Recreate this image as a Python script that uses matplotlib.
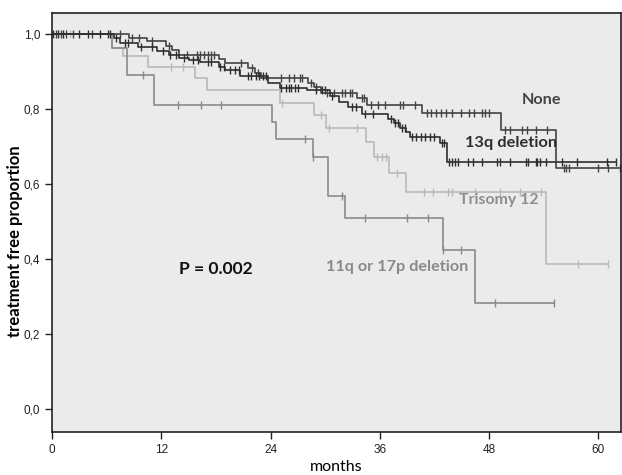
import numpy as np
import matplotlib
matplotlib.use("Agg")
import matplotlib.pyplot as plt
from matplotlib.ticker import FuncFormatter

# Kaplan-Meier steps: (months, treatment free proportion)
none_t = [0, 8.5, 10.4, 12.5, 13.2, 14.0, 18.3, 19.0, 21.5, 22.3, 23.0, 28.1, 28.8, 29.5, 33.5, 34.6, 40.6, 49.3, 55.4]
none_s = [1.0, 0.99, 0.981, 0.968, 0.958, 0.944, 0.933, 0.923, 0.91, 0.895, 0.883, 0.869, 0.86, 0.843, 0.829, 0.81, 0.789, 0.744, 0.643]
none_cens = [0.4, 1.0, 1.5, 2.3, 4.4, 7.5, 8.8, 9.5, 11.0, 12.8, 14.8, 15.9, 16.2, 16.7, 17.1, 17.5, 17.8, 20.8,
             22.0, 22.6, 25.2, 26.0, 26.6, 27.2, 27.5, 28.4, 29.0, 30.2, 31.0, 31.8, 32.2, 32.7, 33.0, 34.0, 34.3,
             35.0, 35.8, 36.6, 38.2, 38.5, 39.9, 41.2, 41.6, 42.2, 42.7, 43.3, 43.9, 44.9, 45.8, 46.3, 47.2, 47.6,
             48.0, 49.7, 50.3, 51.6, 52.2, 53.1, 54.4, 56.2, 56.5, 56.8, 60.0, 61.1, 62.4]

del13_t = [0, 6.8, 7.5, 9.4, 11.5, 12.8, 14.0, 15.0, 16.2, 18.3, 19.0, 20.7, 23.7, 25.0, 28.0, 30.5, 31.5, 32.5,
           34.0, 36.9, 37.6, 38.2, 38.9, 39.3, 42.6, 43.4]
del13_s = [1.0, 0.99, 0.975, 0.965, 0.955, 0.945, 0.935, 0.93, 0.925, 0.912, 0.904, 0.888, 0.869, 0.856, 0.85,
           0.835, 0.818, 0.805, 0.787, 0.773, 0.762, 0.75, 0.738, 0.725, 0.709, 0.659]
del13_cens = [0.1, 0.7, 1.2, 3.0, 4.0, 5.3, 6.1, 6.4, 7.0, 8.0, 8.3, 9.8, 11.0, 12.2, 13.0, 13.6, 14.5, 15.5, 16.0,
              17.1, 17.5, 18.5, 18.9, 19.5, 20.1, 20.5, 21.5, 21.9, 22.4, 22.7, 23.2, 23.5, 25.2, 25.7, 26.0,
              26.3, 26.7, 27.0, 29.0, 29.6, 30.0, 30.8, 33.0, 33.4, 34.4, 35.3, 37.2, 37.7, 38.0, 38.4, 38.8,
              39.5, 40.0, 40.5, 41.0, 41.5, 42.0, 42.8, 43.0, 43.6, 43.9, 44.3, 44.6, 45.7, 46.2, 47.2, 48.9,
              49.2, 50.3, 52.0, 52.3, 53.1, 53.3, 53.6, 54.2, 56.0, 57.6, 61.0, 61.9]

tri12_t = [0, 6.6, 7.8, 10.5, 15.7, 17.0, 25.0, 28.8, 30.1, 34.5, 35.4, 37.0, 38.9, 54.2]
tri12_s = [1.0, 0.963, 0.941, 0.912, 0.883, 0.851, 0.816, 0.784, 0.749, 0.712, 0.672, 0.629, 0.579, 0.387]
tri12_cens = [2.0, 13.1, 14.4, 25.3, 29.5, 30.4, 33.5, 35.7, 36.2, 36.7, 37.9, 40.9, 41.8, 43.5, 43.9, 46.5,
              49.2, 51.4, 53.7, 57.8, 61.1]

del11_t = [0, 6.6, 8.2, 11.2, 24.2, 24.6, 28.7, 30.3, 32.2, 42.9, 46.5]
del11_s = [1.0, 0.963, 0.89, 0.81, 0.765, 0.72, 0.672, 0.567, 0.51, 0.424, 0.283]
del11_cens = [10.0, 13.8, 16.4, 18.6, 27.8, 28.7, 31.9, 34.4, 39.0, 41.3, 42.9, 44.9, 48.7, 55.1]

x_ticks = [0, 12, 24, 36, 48, 60]
y_ticks = [0.0, 0.2, 0.4, 0.6, 0.8, 1.0]

fig = plt.figure(figsize=(6.22, 4.75), dpi=100)
ax = fig.add_axes([0.0836, 0.0905, 0.915, 0.882])
ax.set_facecolor("#ebebeb")


def km(ax, t, s, cens, col, lw=1.2):
    t = np.array(t)
    s = np.array(s)
    c = np.array(cens)
    end = max(t[-1], c.max())
    ax.step(np.append(t, end), np.append(s, s[-1]), where="post", color=col, lw=lw)
    # censored marks sit on the curve value at that time
    cs = s[np.searchsorted(t, c, side="right") - 1]
    ax.plot(c, cs, "|", color=col, ms=6, mew=1.0)


km(ax, tri12_t, tri12_s, tri12_cens, "#b9b9b9")
km(ax, del11_t, del11_s, del11_cens, "#8a8a8a")
km(ax, none_t, none_s, none_cens, "#444444")
km(ax, del13_t, del13_s, del13_cens, "#2e2e2e")

ax.set_xlim(0, 62.5)
ax.set_ylim(-0.061, 1.056)
ax.set_xticks(x_ticks)
ax.set_yticks(y_ticks)
ax.yaxis.set_major_formatter(FuncFormatter(lambda v, p: ("%.1f" % v).replace(".", ",")))
ax.tick_params(direction="out", length=5, width=1, labelsize=8.5, colors="#222222")
for lab in ax.get_xticklabels() + ax.get_yticklabels():
    lab.set_family("Liberation Sans")
for sp in ax.spines.values():
    sp.set_color("#222222")
    sp.set_linewidth(1.2)

ax.set_xlabel("months", family="Lato", fontsize=11.5, labelpad=3)
ax.set_ylabel("treatment free proportion", family="Lato", fontsize=12, fontweight="bold")
ax.yaxis.set_label_coords(-0.051, 0.455)

ax.text(53.8, 0.824, "None", family="Lato", fontsize=11.7, fontweight="bold", color="#444444", ha="center", va="center")
ax.text(50.4, 0.709, "13q deletion", family="Lato", fontsize=11.8, fontweight="bold", color="#2e2e2e", ha="center", va="center")
ax.text(49.1, 0.557, "Trisomy 12", family="Lato", fontsize=11.4, fontweight="bold", color="#8e8e8e", ha="center", va="center")
ax.text(37.9, 0.379, "11q or 17p deletion", family="Lato", fontsize=11.7, fontweight="bold", color="#8a8a8a", ha="center", va="center")
ax.text(18.0, 0.373, "P = 0.002", family="Lato", fontsize=12.5, fontweight="bold", color="#111111", ha="center", va="center")

fig.savefig("out.png", dpi=100)
